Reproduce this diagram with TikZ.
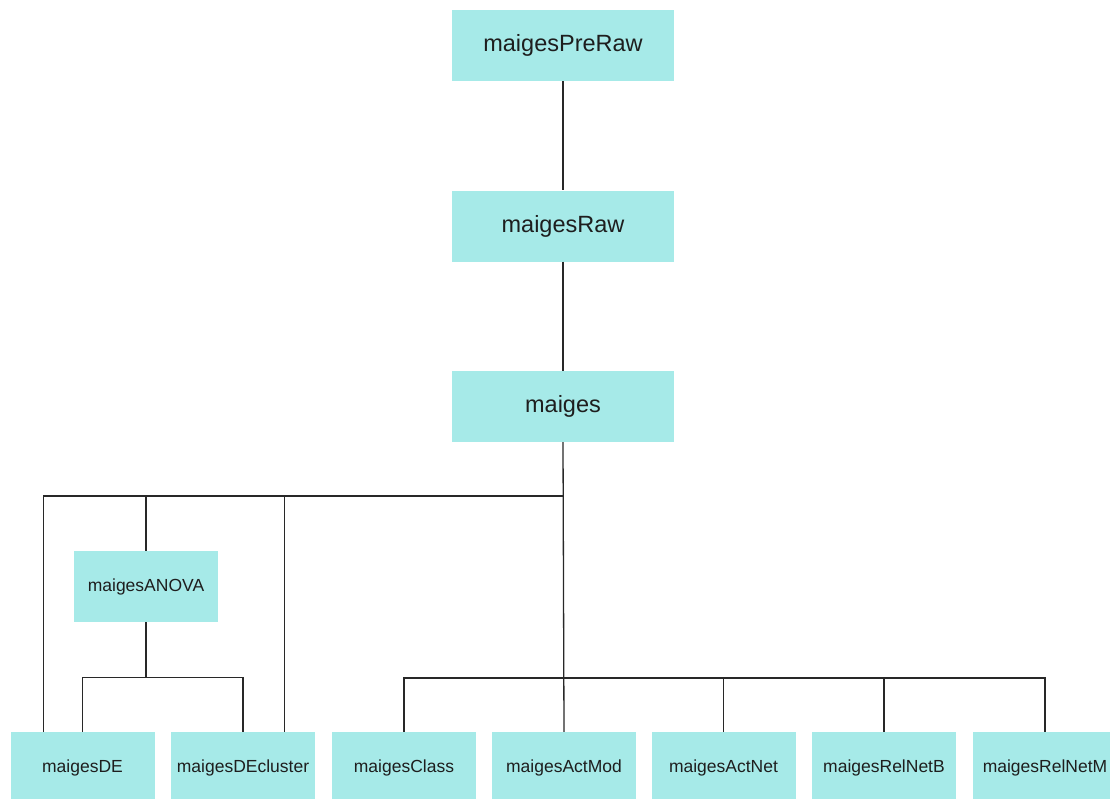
\documentclass[tikz,border=0pt]{standalone}
\usepackage{fontspec}
\setmainfont{Liberation Sans}
\definecolor{boxfill}{RGB}{166,234,232}
\definecolor{linec}{RGB}{40,40,40}
\definecolor{txt}{RGB}{30,30,30}
\begin{document}
\begin{tikzpicture}[x=1pt,y=-1pt,
  bigbox/.style={rectangle,fill=boxfill,draw=none,minimum width=222pt,minimum height=71pt,inner sep=0pt,text=txt,font=\fontsize{23.5}{26}\selectfont},
  smallbox/.style={rectangle,fill=boxfill,draw=none,minimum width=144pt,minimum height=72pt,inner sep=0pt,text=txt,font=\fontsize{17.5}{20}\selectfont},
  conn/.style={draw=linec,line width=1.3pt}]
\useasboundingbox (0,0) rectangle (1110,798);
\node[bigbox] (pre) at (563,45.5) {maigesPreRaw};
\node[bigbox] (raw) at (563,226) {maigesRaw};
\node[bigbox] (mg) at (563,406.5) {maiges};
\node[smallbox,minimum height=71pt] (anova) at (146,586.5) {maigesANOVA};
\node[smallbox] (de) at (82.5,768) {maigesDE};
\node[smallbox] (dec) at (243,768) {maigesDEcluster};
\node[smallbox] (cls) at (404,768) {maigesClass};
\node[smallbox] (actmod) at (564,768) {maigesActMod};
\node[smallbox] (actnet) at (723.5,768) {maigesActNet};
\node[smallbox] (relb) at (884,768) {maigesRelNetB};
\node[smallbox] (relm) at (1045,768) {maigesRelNetM};
\coordinate (j1) at (564,496);
\coordinate (j2) at (564,678);
\coordinate (deL) at ([xshift=33pt]de.north west);
\coordinate (decR) at ([xshift=-31pt]dec.north east);
\coordinate (a1) at ([yshift=-55pt]anova.south);
\draw[conn] (pre.south) -- (raw.north);
\draw[conn] (raw.south) -- (mg.north);
\draw[conn] (mg.south) -- (actmod.north);
\draw[conn] (deL) |- (j1);
\draw[conn] (anova.north) -- (anova.north |- j1);
\draw[conn] (decR) -- (decR |- j1);
\draw[conn] (anova.south) -- (a1);
\draw[conn] (de.north) |- (a1) -| (dec.north);
\draw[conn] (cls.north) |- (j2) -| (relm.north);
\draw[conn] (actnet.north) -- (actnet.north |- j2);
\draw[conn] (relb.north) -- (relb.north |- j2);
\end{tikzpicture}
\end{document}
